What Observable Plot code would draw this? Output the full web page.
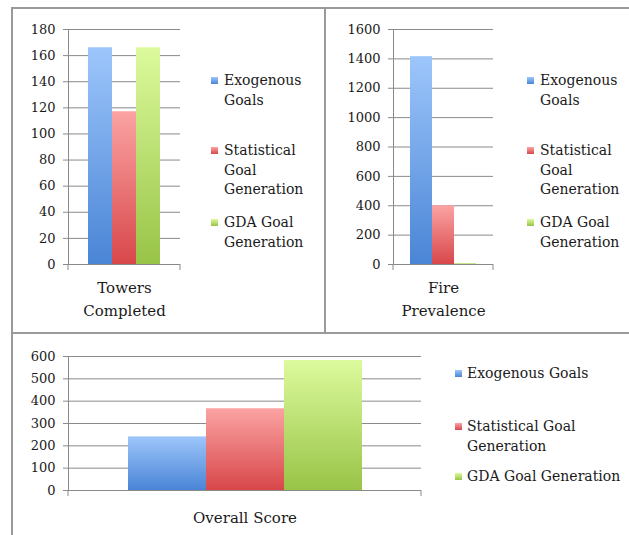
<!DOCTYPE html>
<html>
<head>
<meta charset="utf-8">
<script src="https://cdn.jsdelivr.net/npm/d3@7"></script>
<script src="https://cdn.jsdelivr.net/npm/@observablehq/plot@0.6"></script>
<style>
  html, body { margin: 0; padding: 0; background: #fff; }
  #chart { position: relative; width: 629px; height: 535px; background: #fff; overflow: hidden; font-family: 'DejaVu Serif', serif; color: #1a1a1a; }
  .plt { position: absolute; left: 0; top: 0; }
  .plt line, .plt path { stroke: #8a8a8a; }
  .border { position: absolute; background: #9a9a9a; }
  .leg { position: absolute; font-size: 14px; line-height: 19.5px; color: #1a1a1a; }
  .sw { position: absolute; width: 7px; height: 7px; }
</style>
</head>
<body>
<svg width="0" height="0" style="position:absolute">
  <defs>
    <linearGradient id="gBlue" x1="0" y1="0" x2="0" y2="1">
      <stop offset="0" stop-color="#9dc6fb"/><stop offset="1" stop-color="#4a85d6"/>
    </linearGradient>
    <linearGradient id="gRed" x1="0" y1="0" x2="0" y2="1">
      <stop offset="0" stop-color="#fba3a3"/><stop offset="1" stop-color="#d8474a"/>
    </linearGradient>
    <linearGradient id="gGreen" x1="0" y1="0" x2="0" y2="1">
      <stop offset="0" stop-color="#dcfa9c"/><stop offset="1" stop-color="#98c447"/>
    </linearGradient>
  </defs>
</svg>
<div id="chart"></div>
<script>
// ---- data ----
const series = ["Exogenous Goals", "Statistical Goal Generation", "GDA Goal Generation"];
const categories = ["Towers Completed", "Fire Prevalence", "Overall Score"];
const towersValues = [166, 117, 166];
const fireValues = [1415, 400, 6];
const overallValues = [240, 366, 582];
const towersTicks = [0, 20, 40, 60, 80, 100, 120, 140, 160, 180];
const fireTicks = [0, 200, 400, 600, 800, 1000, 1200, 1400, 1600];
const overallTicks = [0, 100, 200, 300, 400, 500, 600];
const fills = ["url(#gBlue)", "url(#gRed)", "url(#gGreen)"];
const swatchCss = [
  "linear-gradient(#9dc6fb,#4a85d6)",
  "linear-gradient(#fba3a3,#d8474a)",
  "linear-gradient(#dcfa9c,#98c447)"
];

const chart = document.getElementById("chart");
const W = 629, H = 535;

function panel({values, category, ticks, left, right, top, bottom, padOuter, wrap, labelDy}) {
  const rows = series.map((s, i) => ({series: s, value: values[i]}));
  const p = Plot.plot({
    width: W, height: H,
    marginLeft: left, marginRight: W - right, marginTop: top, marginBottom: H - bottom,
    style: {fontFamily: "'DejaVu Serif', serif", fontSize: "13px", background: "transparent", color: "#1a1a1a", overflow: "visible"},
    x: {domain: series, paddingInner: 0, paddingOuter: padOuter, axis: null},
    y: {domain: [0, d3.max(ticks)], ticks: ticks, tickFormat: d => String(d), tickSize: 5, tickPadding: 8, line: true, label: null},
    color: {type: "ordinal", domain: series, range: fills},
    marks: [
      Plot.ruleY(ticks.filter(d => d > 0), {stroke: "#8a8a8a"}),
      Plot.barY(rows, {x: "series", y: "value", fill: "series"}),
      Plot.ruleY([0], {stroke: "#8a8a8a"}),
      (index, scales, vals, dims) => {
        const g = d3.create("svg:g");
        const y0 = scales.y(0);
        for (const x of [dims.marginLeft, dims.width - dims.marginRight]) {
          g.append("line").attr("x1", x).attr("x2", x).attr("y1", y0).attr("y2", y0 + 6).attr("stroke", "#8a8a8a");
        }
        return g.node();
      },
      Plot.text([category], {
        frameAnchor: "bottom", lineAnchor: "top", dy: labelDy,
        text: d => wrap ? d.replace(" ", "\n") : d,
        fontSize: 15, lineHeight: 1.53, fill: "#1a1a1a"
      })
    ]
  });
  p.classList.add("plt");
  chart.appendChild(p);
}

panel({values: towersValues, category: categories[0], ticks: towersTicks, left: 68, right: 180, top: 29, bottom: 264, padOuter: 0.8, wrap: true, labelDy: 12});
panel({values: fireValues, category: categories[1], ticks: fireTicks, left: 393, right: 493, top: 29, bottom: 264, padOuter: 0.7, wrap: true, labelDy: 12});
panel({values: overallValues, category: categories[2], ticks: overallTicks, left: 68, right: 421, top: 356, bottom: 490, padOuter: 0.75, wrap: false, labelDy: 16});

// ---- borders ----
function line(x, y, w, h) {
  const d = document.createElement("div");
  d.className = "border";
  Object.assign(d.style, {left: x + "px", top: y + "px", width: w + "px", height: h + "px"});
  chart.appendChild(d);
}
line(11, 7, W - 11, 2);
line(11, 7, 2, H - 7);
line(324, 7, 2, 326);
line(11, 332, W - 11, 2);

// ---- legends ----
function legend(sx, tx, width, tops) {
  series.forEach((s, i) => {
    const sw = document.createElement("div");
    sw.className = "sw";
    Object.assign(sw.style, {left: sx + "px", top: (tops[i] + 6) + "px", background: swatchCss[i]});
    chart.appendChild(sw);
    const t = document.createElement("div");
    t.className = "leg";
    t.textContent = s;
    Object.assign(t.style, {left: tx + "px", top: tops[i] + "px", width: width + "px"});
    chart.appendChild(t);
  });
}
legend(211, 224, 96, [71, 141, 213]);
legend(527, 540, 88, [71, 141, 213]);
legend(455, 467, 160, [364, 417, 467]);
</script>
</body>
</html>
